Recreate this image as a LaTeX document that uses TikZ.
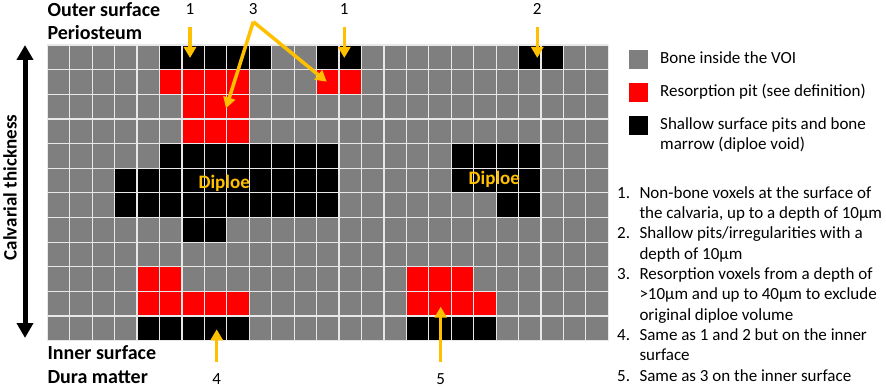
\documentclass[tikz,border=0pt]{standalone}
\usepackage{fontspec}
\setmainfont{Carlito}
\usetikzlibrary{arrows.meta}
\definecolor{bonegray}{HTML}{7F7F7F}
\definecolor{pitred}{HTML}{FF0000}
\definecolor{gold}{HTML}{FFC000}
\definecolor{gridline}{HTML}{E8E8E8}
\begin{document}
\begin{tikzpicture}[x=1pt,y=-1pt,
  titletext/.style={font=\fontsize{20}{23}\selectfont\bfseries, inner sep=0pt, anchor=base west},
  lab/.style={font=\fontsize{17}{20}\selectfont, inner sep=0pt, anchor=base},
  legtext/.style={font=\fontsize{17}{20}\selectfont, inner sep=0pt, anchor=base west},
  diploe/.style={font=\fontsize{19}{22}\selectfont\bfseries, text=gold, inner sep=0pt, anchor=base},
  yarrow/.style={draw=gold, line width=3.5pt, -{Triangle[width=12pt,length=11pt]}},
  legsq/.style={minimum width=18.5pt, minimum height=19pt, inner sep=0pt, draw=none},
]
\useasboundingbox (0,0) rectangle (886,387);

% ---------- grid ----------
\begin{scope}[shift={(47.3,45)}, x=22.44pt, y=-24.64pt]
  \fill[bonegray] (0,0) rectangle (25,12);
  % black: shallow pits and diploe
  \fill[black] (5,0) rectangle (10,1);
  \fill[black] (12,0) rectangle (14,1);
  \fill[black] (21,0) rectangle (23,1);
  \fill[black] (5,4) rectangle (13,5);
  \fill[black] (18,4) rectangle (22,6);
  \fill[black] (3,5) rectangle (13,7);
  \fill[black] (20,6) rectangle (22,7);
  \fill[black] (6,7) rectangle (8,8);
  \fill[black] (4,11) rectangle (9,12);
  \fill[black] (16,11) rectangle (20,12);
  % red: resorption pits
  \fill[pitred] (5,1) rectangle (9,2);
  \fill[pitred] (12,1) rectangle (14,2);
  \fill[pitred] (6,2) rectangle (9,4);
  \fill[pitred] (4,9) rectangle (6,10);
  \fill[pitred] (16,9) rectangle (19,10);
  \fill[pitred] (4,10) rectangle (9,11);
  \fill[pitred] (16,10) rectangle (20,11);
  % grid lines
  \foreach \c in {0,...,25} \draw[gridline, line width=1.2pt] (\c,0) -- (\c,12);
  \foreach \r in {0,...,12} \draw[gridline, line width=1.2pt] (0,\r) -- (25,\r);
\end{scope}

% ---------- side texts ----------
\node[titletext] (outer) at (47.3,16.7) {Outer surface};
\node[titletext] (perio) at (47.3,40) {Periosteum};
\node[titletext] (inner) at (47.3,359) {Inner surface};
\node[titletext] (dura) at (47.3,383) {Dura matter};

\node[font=\fontsize{19}{22}\selectfont\bfseries, inner sep=0pt, anchor=base, rotate=90] (calv) at (16.7,187.5) {Calvarial thickness};
\coordinate (calvtop) at (25,45);
\coordinate (calvbot) at (25,338);
\draw[line width=5pt, {Triangle[width=16pt,length=15pt]}-{Triangle[width=16pt,length=15pt]}] (calvtop) -- (calvbot);

\node[diploe] (dip1) at (224.2,188.3) {Diploe};
\node[diploe] (dip2) at (494.3,185) {Diploe};

% ---------- numbered arrows ----------
\node[lab] (n1a) at (190,15) {1};
\node[lab] (n3) at (253.3,15) {3};
\node[lab] (n1b) at (344.3,15) {1};
\node[lab] (n2) at (537.3,15) {2};
\node[lab] (n4) at (216.7,384) {4};
\node[lab] (n5) at (440.7,384) {5};

\coordinate (t1a) at (190,58);
\coordinate (t1b) at (344.3,58);
\coordinate (t2) at (537.3,58);
\coordinate (f3) at (253.3,21.7);
\coordinate (t3a) at (226,108.3);
\coordinate (t3b) at (326.7,81.7);
\coordinate (t4) at (216.7,329.3);
\coordinate (t5) at (440.7,306.7);

\draw[yarrow, shorten <=12pt] (n1a) -- (t1a);
\draw[yarrow, shorten <=12pt] (n1b) -- (t1b);
\draw[yarrow, shorten <=12pt] (n2) -- (t2);
\draw[yarrow] (f3) -- (t3a);
\draw[yarrow] (f3) -- (t3b);
\draw[yarrow, shorten <=11pt] (n4) -- (t4);
\draw[yarrow, shorten <=11pt] (n5) -- (t5);

% ---------- legend ----------
\node[legsq, fill=bonegray] (lg1) at (638.5,59.5) {};
\node[legsq, fill=pitred] (lg2) at (638.5,92.2) {};
\node[legsq, fill=black] (lg3) at (638.5,125.7) {};
\node[legtext] (lt1) at (660,63.3) {Bone inside the VOI};
\node[legtext] (lt2) at (660,96.7) {Resorption pit (see definition)};
\node[legtext] (lt3a) at (660,130) {Shallow surface pits and bone};
\node[legtext] (lt3b) at (660,149.3) {marrow (diploe void)};

% ---------- numbered list ----------
\foreach \num/\yy in {1/198.3, 2/238.9, 3/279.5, 4/340.4, 5/381}
  \node[legtext] (num\num) at (617,\yy) {\num.};
\node[legtext] (l1a) at (639.3,198.3) {Non-bone voxels at the surface of};
\node[legtext] (l1b) at (639.3,218.6) {the calvaria, up to a depth of 10µm};
\node[legtext] (l2a) at (639.3,238.9) {Shallow pits/irregularities with a};
\node[legtext] (l2b) at (639.3,259.2) {depth of 10µm};
\node[legtext] (l3a) at (639.3,279.5) {Resorption voxels from a depth of};
\node[legtext] (l3b) at (639.3,299.8) {>10µm and up to 40µm to exclude};
\node[legtext] (l3c) at (639.3,320.1) {original diploe volume};
\node[legtext] (l4a) at (639.3,340.4) {Same as 1 and 2 but on the inner};
\node[legtext] (l4b) at (639.3,360.7) {surface};
\node[legtext] (l5) at (639.3,381) {Same as 3 on the inner surface};
\end{tikzpicture}
\end{document}
